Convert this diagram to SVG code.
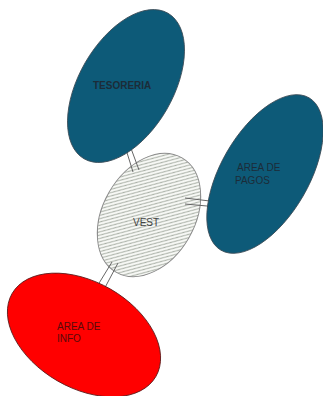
<svg xmlns="http://www.w3.org/2000/svg" width="323" height="396" viewBox="0 0 323 396">
<style>
.blue{fill:#0d5a78;stroke:#3a4a55;stroke-width:0.8}
.red{fill:#ff0000;stroke:#5a1a1a;stroke-width:0.8}
.vest{fill:url(#hatch);stroke:#8a8a8a;stroke-width:0.9}
.conn line{stroke:#666;stroke-width:1}
text{font-family:"Liberation Sans",Arial,sans-serif;font-size:10px}
.tb{fill:#1c2c38}
.tr{fill:#5a0a0a}
.tv{fill:#444}
</style>
<defs>
<pattern id="hatch" patternUnits="userSpaceOnUse" width="4.5" height="4.5">
<rect width="4.5" height="4.5" fill="#fafbf8"/>
<path d="M0,4.5 L4.5,0 M-1,1 L1,-1 M3.5,5.5 L5.5,3.5" stroke="#a3aaa0" stroke-width="1"/>
</pattern>
</defs>
<g id="vest">
<ellipse class="vest" cx="149" cy="215" rx="46" ry="66" transform="rotate(30 149 215)"/>
<text class="tv" x="133" y="226">VEST</text>
</g>
<g id="connectors" class="conn">
<line x1="124" y1="143" x2="133" y2="172"/>
<line x1="129" y1="143" x2="139" y2="170"/>
<line x1="185" y1="198" x2="218" y2="202"/>
<line x1="185" y1="204" x2="218" y2="207"/>
<line x1="112" y1="262" x2="93" y2="293"/>
<line x1="118" y1="263" x2="100" y2="297"/>
</g>
<g id="tesoreria">
<ellipse class="blue" cx="126" cy="86" rx="47" ry="84" transform="rotate(30 126 86)"/>
<text class="tb" x="93" y="89" font-weight="bold">TESORERIA</text>
</g>
<g id="pagos">
<ellipse class="blue" cx="265" cy="174" rx="44" ry="88" transform="rotate(30 265 174)"/>
<text class="tb" x="237" y="171">AREA DE</text>
<text class="tb" x="235" y="184">PAGOS</text>
</g>
<g id="info">
<ellipse class="red" cx="84" cy="335" rx="83" ry="53" transform="rotate(30 84 335)"/>
<text class="tr" x="57" y="330">AREA DE</text>
<text class="tr" x="57" y="342">INFO</text>
</g>
</svg>
